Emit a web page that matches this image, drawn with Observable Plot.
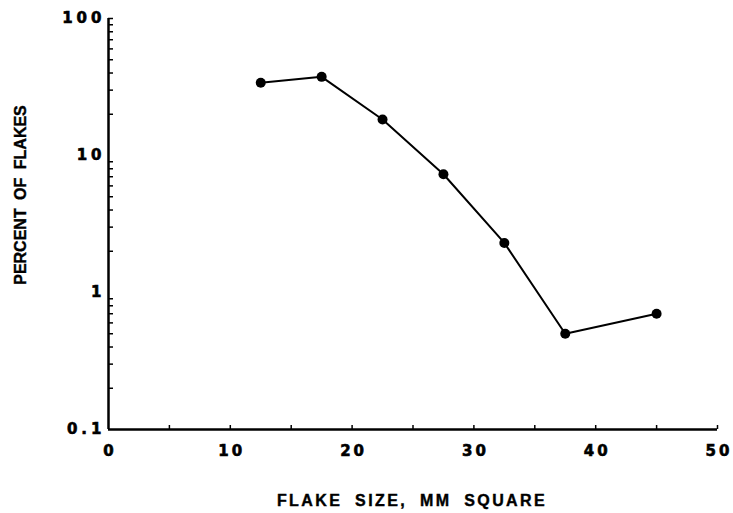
<!DOCTYPE html>
<html>
<head>
<meta charset="utf-8">
<script src="https://cdn.jsdelivr.net/npm/d3@7"></script>
<script src="https://cdn.jsdelivr.net/npm/@observablehq/plot@0.6"></script>
<style>
  html, body { margin: 0; padding: 0; background: #fff; }
  #chart svg { display: block; }
</style>
</head>
<body>
<div id="chart"></div>
<script>
const flakeSize = [12.5, 17.5, 22.5, 27.5, 32.5, 37.5, 45];
const percentFlakes = [34, 37.5, 18.3, 7.3, 2.3, 0.5, 0.7];
const xTicks = [0, 10, 20, 30, 40, 50];
const xMinorTicks = [5, 10, 15, 20, 25, 30, 35, 40, 45, 50];
const yTicks = [0.1, 1, 10, 100];
const yMinorTicks = [0.2,0.3,0.4,0.5,0.6,0.7,0.8,0.9, 2,3,4,5,6,7,8,9, 20,30,40,50,60,70,80,90, 100];
const xTitle = "FLAKE SIZE, MM SQUARE";
const yTitle = "PERCENT OF FLAKES";

const data = flakeSize.map((x, i) => ({x, y: percentFlakes[i]}));
const font = "'Liberation Sans', Arial, sans-serif";
const tickFont = "'DejaVu Sans', sans-serif";

const chart = Plot.plot({
  width: 733,
  height: 513,
  marginLeft: 108,
  marginRight: 16,
  marginTop: 18,
  marginBottom: 84,
  style: {fontFamily: font, fontWeight: "bold", color: "#000", background: "#fff"},
  x: {domain: [0, 50]},
  y: {type: "log", domain: [0.1, 100]},
  marks: [
    Plot.axisX({ticks: xMinorTicks, tickSize: -4, tickFormat: () => "", strokeWidth: 1.5, label: null}),
    Plot.axisX({ticks: xTicks, tickSize: 0, tickPadding: 16, fontSize: 15, tickFormat: d => d, label: null, dx: 1.5}),
    Plot.axisY({ticks: yMinorTicks, tickSize: -5, tickFormat: () => "", strokeWidth: 1.5, label: null}),
    Plot.axisY({ticks: yTicks, tickSize: 0, tickPadding: 3, fontSize: 15, tickFormat: d => String(d), label: null}),
    Plot.ruleX([0], {strokeWidth: 2.5}),
    Plot.ruleY([0.1], {strokeWidth: 2.5}),
    Plot.line(data, {x: "x", y: "y", strokeWidth: 2, stroke: "#000"}),
    Plot.dot(data, {x: "x", y: "y", r: 5, fill: "#000", stroke: "none"})
  ]
});

const svg = d3.select(chart);
svg.selectAll("g[aria-label='x-axis tick label'] text")
  .style("font-family", tickFont).style("font-weight", "bold").style("letter-spacing", "3px")
  .attr("stroke", "#000").attr("stroke-width", 0.6);
svg.selectAll("g[aria-label='y-axis tick label'] text")
  .style("font-family", tickFont).style("font-weight", "bold").style("letter-spacing", "4px")
  .attr("stroke", "#000").attr("stroke-width", 0.6);
svg.append("text")
  .attr("x", 412).attr("y", 502)
  .attr("text-anchor", "middle")
  .attr("dominant-baseline", "middle")
  .attr("stroke", "#000").attr("stroke-width", 0.4)
  .style("font-family", font).style("font-weight", "bold").style("font-size", "16px")
  .style("letter-spacing", "2.4px").style("word-spacing", "6px")
  .text(xTitle);
svg.append("text")
  .attr("transform", "translate(22,195) rotate(-90)")
  .attr("text-anchor", "middle")
  .attr("dominant-baseline", "middle")
  .attr("stroke", "#000").attr("stroke-width", 0.4)
  .style("font-family", font).style("font-weight", "bold").style("font-size", "16px")
  .style("word-spacing", "4px")
  .text(yTitle);

document.getElementById("chart").appendChild(chart);
</script>
</body>
</html>
